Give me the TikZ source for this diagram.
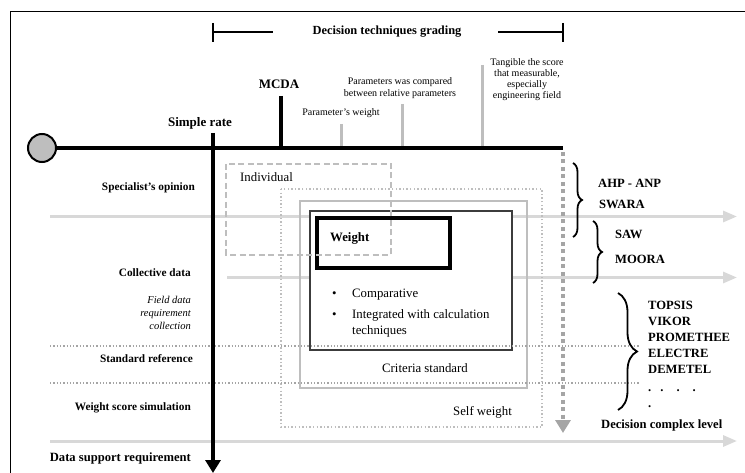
\documentclass[tikz,border=0pt]{standalone}
\usepackage{fontspec}
\setmainfont{Liberation Serif}
\usetikzlibrary{arrows.meta,decorations.pathreplacing}
\definecolor{lg}{RGB}{216,216,216}
\definecolor{mg}{RGB}{190,190,190}
\definecolor{dg}{RGB}{165,165,165}
\definecolor{vd}{RGB}{60,60,60}
\begin{document}
\begin{tikzpicture}[x=1pt,y=-1pt,
  lgarrow/.style={draw=lg,line width=3pt,-{Triangle[length=14pt,width=11pt,fill=lg]}},
  gtick/.style={draw=mg,line width=3pt},
  btick/.style={draw=black,line width=4pt},
  hdots/.style={draw=dg,line width=1.3pt,dash pattern=on 1.3pt off 2pt},
  blab/.style={font=\fontsize{11.3}{13}\selectfont\bfseries,anchor=east,inner sep=0pt},
  rlab/.style={font=\fontsize{12.6}{14}\selectfont\bfseries,anchor=west,inner sep=0pt},
  tlab/.style={font=\fontsize{13}{15}\selectfont\bfseries,inner sep=0pt},
  slab/.style={font=\fontsize{10}{11}\selectfont,inner sep=0pt,align=center},
  boxtxt/.style={font=\fontsize{12.8}{15}\selectfont,inner sep=0pt},
  bracestyle/.style={draw=black,line width=1.8pt,decorate}
]
\useasboundingbox (0,0) rectangle (745,473);
% frame
\coordinate (f0) at (10.5,473);
\coordinate (f1) at (10.5,11.5);
\coordinate (f2) at (745,11.5);
\draw[line width=1pt] (f0) -- (f1) -- (f2);

% title bracket
\node[font=\fontsize{12.4}{14}\selectfont\bfseries,inner sep=0pt] (title) at (387,32) {Decision techniques grading};
\coordinate (tl0) at (213,32); \coordinate (tl1) at (273,32);
\coordinate (tr0) at (498,32); \coordinate (tr1) at (563,32);
\coordinate (tlt) at (213,23); \coordinate (tlb) at (213,42);
\coordinate (trt) at (563,23); \coordinate (trb) at (563,42);
\draw[line width=1.3pt] (tl0) -- (tl1);
\draw[line width=1.3pt] (tr0) -- (tr1);
\draw[line width=1.5pt] (tlt) -- (tlb);
\draw[line width=1.5pt] (trt) -- (trb);

% light gray horizontal arrows
\coordinate (a1s) at (50,216.5); \coordinate (a1e) at (737,216.5);
\coordinate (a2s) at (227,277.5); \coordinate (a2e) at (737,277.5);
\coordinate (a3s) at (50,441); \coordinate (a3e) at (737,441);
\draw[lgarrow] (a1s) -- (a1e);
\draw[lgarrow] (a2s) -- (a2e);
\draw[lgarrow] (a3s) -- (a3e);

% boxes
\draw[draw=mg,line width=1.4pt,dash pattern=on 1.4pt off 2.2pt] (281,189) rectangle (542,427);
\node[boxtxt,anchor=east] (self) at (512,412) {Self weight};
\draw[draw=mg,line width=1.5pt] (300,201) rectangle (527,388);
\node[boxtxt] (crit) at (425,368) {Criteria standard};
\draw[draw=vd,line width=2pt,fill=white] (310,211) rectangle (512,350);
\draw[draw=black,line width=4pt,fill=white] (317,218) rectangle (450,268);
\node[tlab,anchor=west,font=\fontsize{12.8}{15}\selectfont\bfseries] (weight) at (330,238) {Weight};
\node[boxtxt,anchor=west] (b1) at (332,294.5) {•};
\node[boxtxt,anchor=west] (comp) at (352,294.5) {Comparative};
\node[boxtxt,anchor=west] (b2) at (332,315.5) {•};
\node[boxtxt,anchor=west] (integ) at (352,315.5) {Integrated with calculation};
\node[boxtxt,anchor=west] (tech) at (352,331) {techniques};
\draw[draw=mg,line width=1.5pt,dash pattern=on 6pt off 3.5pt] (226,164) rectangle (391,255);
\node[boxtxt,anchor=west] (indiv) at (240,177.5) {Individual};

% dotted horizontal lines
\coordinate (d1s) at (50,346); \coordinate (d1e) at (640,346);
\coordinate (d2s) at (50,383); \coordinate (d2e) at (640,383);
\draw[hdots] (d1s) -- (d1e);
\draw[hdots] (d2s) -- (d2e);

% gray ticks above main line
\coordinate (g1t) at (341,124); \coordinate (g1b) at (341,148);
\coordinate (g2t) at (402,104); \coordinate (g2b) at (402,148);
\coordinate (g3t) at (482,65);  \coordinate (g3b) at (482,148);
\draw[gtick] (g1t) -- (g1b);
\draw[gtick] (g2t) -- (g2b);
\draw[gtick] (g3t) -- (g3b);

% black ticks and main axes
\coordinate (m1t) at (281,96); \coordinate (m1b) at (281,148);
\draw[btick] (m1t) -- (m1b);
\coordinate (vs) at (213,133); \coordinate (ve) at (213,473);
\draw[btick,-{Triangle[length=13pt,width=15pt]}] (vs) -- (ve);
\node[circle,draw=black,fill=mg,line width=2pt,minimum size=28pt,inner sep=0pt] (start) at (42,148) {};
\coordinate (mend) at (563,148);
\draw[btick] (start.east) -- (mend);

% dotted vertical gray arrow
\coordinate (dvs) at (563,152); \coordinate (dve) at (563,433);
\draw[draw=dg,line width=4.5pt,dash pattern=on 4pt off 3.5pt,-{Triangle[length=13pt,width=15pt,fill=dg]}] (dvs) -- (dve);

% labels on top
\node[tlab] (simple) at (200,123) {Simple rate};
\node[tlab] (mcda) at (279,84) {MCDA};
\node[slab] (pw) at (341,113) {Parameter's weight};
\node[slab,font=\fontsize{10}{12.5}\selectfont] (pc) at (400,88) {Parameters was compared\\between relative parameters};
\node[slab,font=\fontsize{10}{11}\selectfont] (tang) at (527,80) {Tangible the score\\that measurable,\\especially\\engineering field};

% left labels
\node[blab] (spec) at (195,188) {Specialist's opinion};
\node[blab] (coll) at (191,273) {Collective data};
\node[blab,font=\fontsize{10.5}{12.7}\selectfont\itshape,align=right] (field) at (191,313) {Field data\\requirement\\collection};
\node[blab] (stdref) at (193,359) {Standard reference};
\node[blab] (wss) at (191,408) {Weight score simulation};
\node[blab,font=\fontsize{12.6}{14}\selectfont\bfseries] (dsr) at (191,458) {Data support requirement};

% braces
\coordinate (br1t) at (573,163); \coordinate (br1b) at (573,237);
\coordinate (br2t) at (593,221); \coordinate (br2b) at (593,283);
\coordinate (br3t) at (618,293); \coordinate (br3b) at (618,410);
\draw[bracestyle,decoration={brace,amplitude=9pt}] (br1t) -- (br1b);
\draw[bracestyle,decoration={brace,amplitude=9pt}] (br2t) -- (br2b);
\draw[bracestyle,decoration={brace,amplitude=19pt}] (br3t) -- (br3b);

% right labels
\node[rlab] (ahp) at (598,183) {AHP - ANP};
\node[rlab] (swara) at (599,204) {SWARA};
\node[rlab] (saw) at (615,234) {SAW};
\node[rlab] (moora) at (615,259) {MOORA};
\node[rlab] (topsis) at (648,305) {TOPSIS};
\node[rlab] (vikor) at (648,321) {VIKOR};
\node[rlab] (prom) at (648,337) {PROMETHEE};
\node[rlab] (elec) at (648,353) {ELECTRE};
\node[rlab] (deme) at (648,369) {DEMETEL};
\node[rlab,anchor=base west] (dots) at (648,391) {.\hspace{9pt}.\hspace{13pt}.\hspace{13pt}.};
\node[rlab,anchor=base west] (dot) at (648,407) {.};
\node[rlab] (dcl) at (601,425) {Decision complex level};
\end{tikzpicture}
\end{document}
